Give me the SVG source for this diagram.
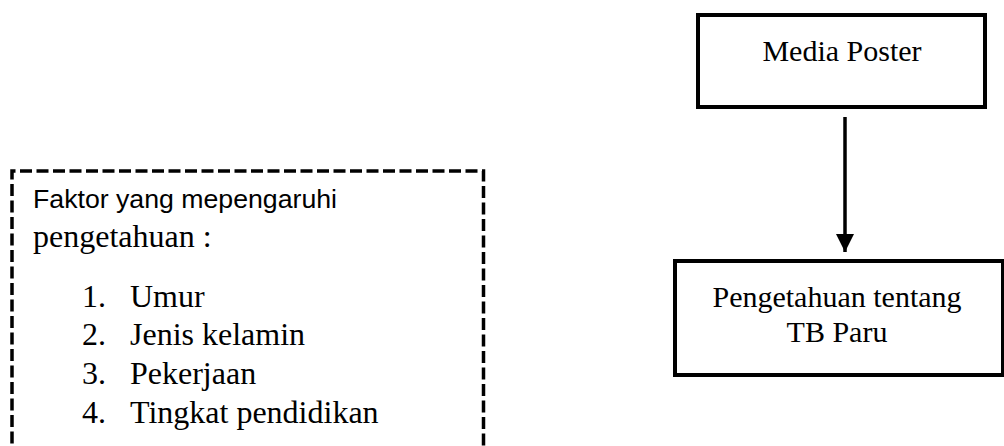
<svg xmlns="http://www.w3.org/2000/svg" width="1004" height="446" viewBox="0 0 1004 446">
  <style>
    .box { fill: #ffffff; stroke: #000000; stroke-width: 4; }
    .dash { fill: none; stroke: #000000; stroke-width: 3.5; stroke-dasharray: 12 4.5; }
    .serif { font-family: "Liberation Serif", "Times New Roman", serif; font-size: 32px; fill: #000000; }
    .label { font-family: "Liberation Serif", "Times New Roman", serif; font-size: 30px; fill: #000000; }
    .sans { font-family: "Liberation Sans", Arial, sans-serif; font-size: 25px; fill: #000000; }
    .mid { text-anchor: middle; }
    .edge { stroke: #000000; stroke-width: 3.5; fill: none; }
  </style>
  <defs>
    <marker id="arrowhead" markerUnits="userSpaceOnUse" markerWidth="20" markerHeight="18" refX="18" refY="9" orient="auto">
      <path d="M0,0 L18,9 L0,18 Z" fill="#000000"/>
    </marker>
  </defs>

  <rect width="1004" height="446" fill="#ffffff"/>

  <!-- factors influencing knowledge -->
  <g id="node-faktor">
    <path class="dash" d="M12,460 L12,171 L483.5,171 L483.5,460"/>
    <text class="sans" x="33" y="208" textLength="304" lengthAdjust="spacingAndGlyphs">Faktor yang mepengaruhi</text>
    <text class="serif" x="33" y="247">pengetahuan :</text>
    <text class="serif" x="82" y="307">1.</text>
    <text class="serif" x="130" y="307">Umur</text>
    <text class="serif" x="82" y="345">2.</text>
    <text class="serif" x="130" y="345">Jenis kelamin</text>
    <text class="serif" x="82" y="384">3.</text>
    <text class="serif" x="130" y="384">Pekerjaan</text>
    <text class="serif" x="82" y="423">4.</text>
    <text class="serif" x="130" y="423">Tingkat pendidikan</text>
  </g>

  <!-- poster media -->
  <g id="node-media">
    <rect class="box" x="698" y="15" width="287" height="92"/>
    <text class="label mid" x="842" y="61" font-size="31">Media Poster</text>
  </g>

  <!-- knowledge about pulmonary TB -->
  <g id="node-pengetahuan">
    <rect class="box" x="675" y="261" width="328" height="114"/>
    <text class="label mid" x="837" y="307">Pengetahuan tentang</text>
    <text class="label mid" x="837" y="342">TB Paru</text>
  </g>

  <g id="connectors">
    <line class="edge" x1="845" y1="117" x2="845" y2="252" marker-end="url(#arrowhead)"/>
  </g>
</svg>
